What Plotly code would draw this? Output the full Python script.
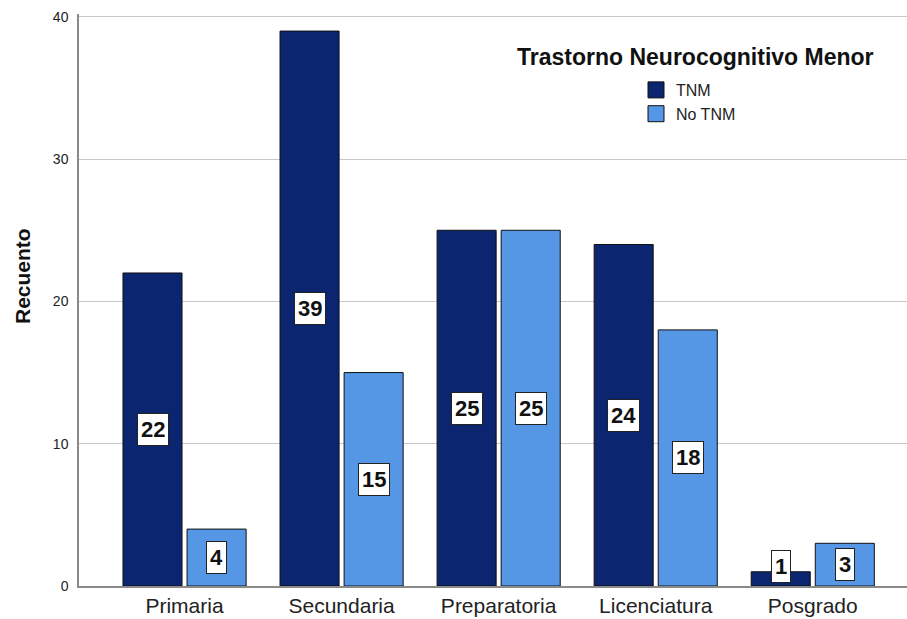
import plotly.graph_objects as go

# Data
niveles = ["Primaria", "Secundaria", "Preparatoria", "Licenciatura", "Posgrado"]
tnm = [22, 39, 25, 24, 1]
no_tnm = [4, 15, 25, 18, 3]
series_names = ["TNM", "No TNM"]
series_colors = ["#0b2570", "#5596e5"]

bar_w = 0.376
gap = 0.016
px_per_cat = 157
px_per_unit = 572 / 40.2

fig = go.Figure()
for name, values, color, offset in [
    (series_names[0], tnm, series_colors[0], -bar_w - gap),
    (series_names[1], no_tnm, series_colors[1], gap),
]:
    fig.add_trace(
        go.Bar(
            x=niveles,
            y=values,
            name=name,
            width=bar_w,
            offset=offset,
            marker=dict(color=color, line=dict(color="#111111", width=1)),
            showlegend=False,
        )
    )

# Legend entries with larger square swatches
for name, color in zip(series_names, series_colors):
    fig.add_trace(
        go.Scatter(
            x=[None],
            y=[None],
            mode="markers",
            name=name,
            marker=dict(symbol="square", size=18, color=color, line=dict(color="#111111", width=1)),
        )
    )

# Value labels in white boxes at bar mid-height (kept above the axis for tiny bars)
shift = (bar_w / 2 + gap) * px_per_cat
for values, xs in [(tnm, -shift), (no_tnm, shift)]:
    for cat, v in zip(niveles, values):
        small = v / 2 * px_per_unit < 20
        fig.add_annotation(
            x=cat,
            y=0 if small else v / 2,
            yanchor="bottom" if small else "middle",
            yshift=3 if small else 0,
            xref="x",
            yref="y",
            xshift=xs,
            text=str(v),
            showarrow=False,
            font=dict(family="Liberation Sans, Arial", size=22, color="#111111", weight="bold"),
            bgcolor="white",
            bordercolor="#222222",
            borderwidth=1,
            borderpad=3,
        )

# Legend title drawn as a centered annotation
fig.add_annotation(
    x=(695 - 79) / 828,
    y=(586 - 57) / 572,
    xref="paper",
    yref="paper",
    xanchor="center",
    yanchor="middle",
    text="<b>Trastorno Neurocognitivo Menor</b>",
    showarrow=False,
    font=dict(family="Liberation Sans, Arial", size=23, color="#111111"),
)

# Y axis title (sits a little above the plot centre in the reference)
fig.add_annotation(
    x=(22 - 79) / 828,
    y=(586 - 276) / 572,
    xref="paper",
    yref="paper",
    xanchor="center",
    yanchor="middle",
    textangle=-90,
    text="<b>Recuento</b>",
    showarrow=False,
    font=dict(family="Liberation Sans, Arial", size=21, color="#111111"),
)

fig.update_layout(
    width=907,
    height=619,
    margin=dict(l=79, r=0, t=14, b=33),
    plot_bgcolor="white",
    paper_bgcolor="white",
    font=dict(family="Liberation Sans, Arial", color="#222222"),
    barmode="group",
    showlegend=True,
    legend=dict(
        x=(636 - 79) / 828,
        y=(586 - 73) / 572,
        xanchor="left",
        yanchor="top",
        font=dict(size=16, color="#222222"),
        bgcolor="rgba(0,0,0,0)",
        itemwidth=30,
        tracegroupgap=0,
        itemclick=False,
    ),
    xaxis=dict(
        type="category",
        range=[-0.672, 4.6],
        automargin=False,
        showline=True,
        linecolor="#8a8a8a",
        linewidth=1.5,
        ticks="",
        tickfont=dict(size=21, color="#222222"),
        showgrid=False,
    ),
    yaxis=dict(
        range=[0, 40.2],
        automargin=False,
        tickvals=[0, 10, 20, 30, 40],
        showline=True,
        linecolor="#8a8a8a",
        linewidth=1.5,
        showgrid=True,
        gridcolor="#c8c8c8",
        gridwidth=1,
        zeroline=False,
        ticks="",
        ticklabelstandoff=6,
        tickfont=dict(size=14, color="#222222"),
    ),
)

# the page body has a default 8px margin; remove it so the figure sits at the corner
fig.write_html(
    "out.html",
    config={"displayModeBar": False},
    post_script="document.body.style.margin='0';",
)
